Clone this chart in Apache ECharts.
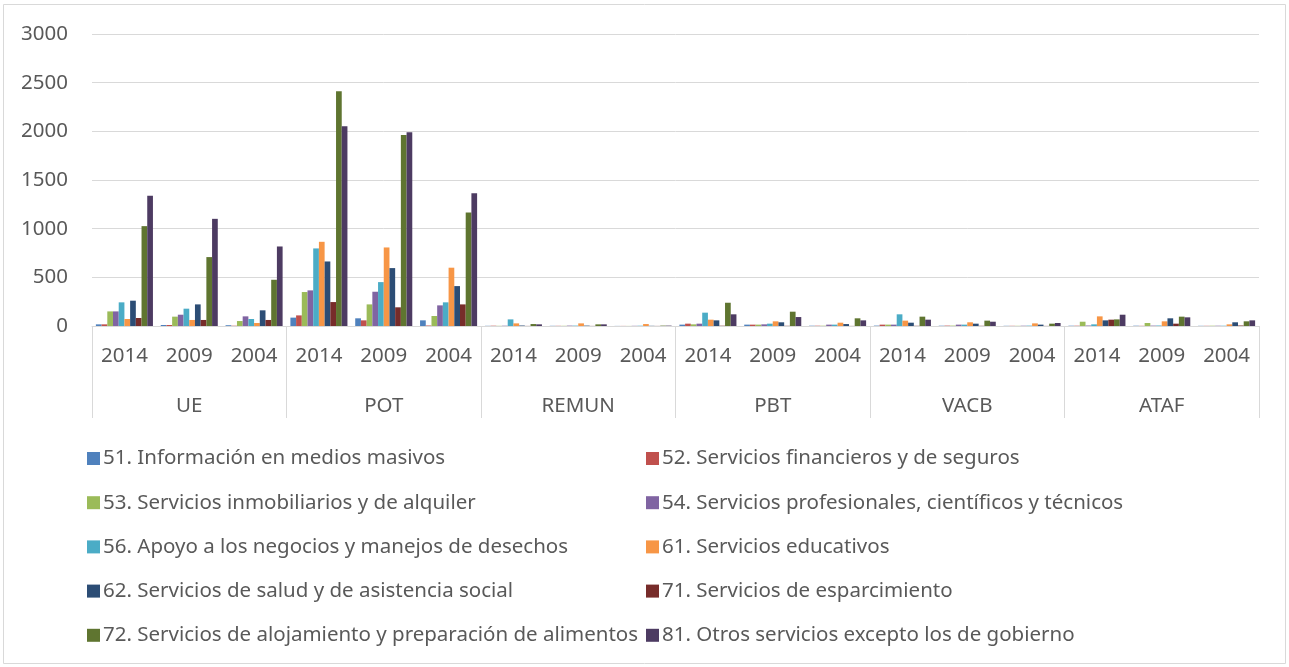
<!DOCTYPE html>
<html>
<head>
<meta charset="utf-8">
<script src="https://cdn.jsdelivr.net/npm/echarts@6/dist/echarts.min.js"></script>
<style>
  html, body { margin: 0; padding: 0; background: #fff; }
  #chart { width: 1289px; height: 667px; }
</style>
</head>
<body>
<div id="chart"></div>
<script>
  // categorias: 6 variables x 3 años
  var groups = ['UE', 'POT', 'REMUN', 'PBT', 'VACB', 'ATAF'];
  var years = ['2014', '2009', '2004'];
  var yTicks = [0, 500, 1000, 1500, 2000, 2500, 3000];

  var names = [
    '51. Información en medios masivos',
    '52. Servicios financieros y de seguros',
    '53. Servicios inmobiliarios y de alquiler',
    '54. Servicios profesionales, científicos y técnicos',
    '56. Apoyo a los negocios y manejos de desechos',
    '61. Servicios educativos',
    '62. Servicios de salud y de asistencia social',
    '71. Servicios de esparcimiento',
    '72. Servicios de alojamiento y preparación de alimentos',
    '81. Otros servicios excepto los de gobierno'
  ];
  var colors = ['#4F81BD', '#C0504D', '#9BBB59', '#8064A2', '#4BACC6',
                '#F79646', '#2C4D75', '#772C2A', '#5F7530', '#4D3B62'];

  // orden: UE(14,09,04), POT, REMUN, PBT, VACB, ATAF
  var s51 = [17, 10, 8,    86, 79, 58,      2, 2, 1,    14, 14, 3,    4, 3, 2,     3, 3, 2];
  var s52 = [17, 10, 3,    109, 58, 5,      3, 2, 1,    24, 14, 3,    14, 4, 2,    3, 2, 2];
  var s53 = [150, 96, 51,  349, 222, 103,   2, 2, 1,    17, 14, 3,    14, 4, 2,    44, 31, 3];
  var s54 = [150, 116, 99, 366, 352, 212,   3, 4, 2,    24, 17, 14,   14, 14, 3,   5, 4, 3];
  var s56 = [243, 178, 72, 797, 451, 243,   68, 4, 3,   137, 24, 14,  120, 14, 4,  17, 5, 3];
  var s61 = [72, 62, 31,   865, 807, 599,   27, 27, 20, 65, 48, 34,   55, 38, 27,  99, 48, 17];
  var s62 = [260, 222, 161, 663, 595, 410,  5, 4, 2,    58, 38, 20,   34, 24, 14,  58, 79, 38];
  var s71 = [82, 62, 62,   246, 192, 222,   1, 1, 1,    3, 2, 1,      2, 2, 1,     65, 24, 5];
  var s72 = [1026, 708, 475, 2411, 1963, 1166, 20, 17, 4, 239, 147, 79, 96, 55, 24, 68, 96, 48];
  var s81 = [1337, 1101, 817, 2052, 1990, 1365, 17, 17, 4, 120, 92, 58, 65, 44, 31, 116, 89, 58];
  var allData = [s51, s52, s53, s54, s56, s61, s62, s71, s72, s81];

  var cats = [];
  groups.forEach(function () {
    years.forEach(function (y) { cats.push(y); });
  });

  var series = names.map(function (n, i) {
    return {
      name: n,
      type: 'bar',
      xAxisIndex: 0,
      data: allData[i],
      barGap: '0%',
      barCategoryGap: '12%',
      itemStyle: { color: colors[i] }
    };
  });

  var font = 'Noto Sans';
  var txt = '#595959';
  var line = '#d9d9d9';

  var legendBase = {
    orient: 'vertical',
    top: 443,
    itemWidth: 13,
    itemHeight: 13,
    itemGap: 23.2,
    icon: 'rect',
    textStyle: { fontFamily: font, fontSize: 20.5, lineHeight: 20, color: txt, padding: [0, 0, 0, -2] }
  };

  var myChart = echarts.init(document.getElementById('chart'));
  myChart.setOption({
    animation: false,
    color: colors,
    textStyle: { fontFamily: font },
    grid: { left: 92, right: 30, top: 34, bottom: 341 },
    graphic: [{
      type: 'rect',
      shape: { x: 3.5, y: 4.5, width: 1282, height: 659 },
      style: { fill: 'none', stroke: line, lineWidth: 1 },
      silent: true
    }],
    legend: [
      Object.assign({}, legendBase, { left: 82, data: [names[0], names[2], names[4], names[6], names[8]] }),
      Object.assign({}, legendBase, { left: 641, data: [names[1], names[3], names[5], names[7], names[9]] })
    ],
    xAxis: [
      {
        type: 'category',
        data: cats,
        position: 'bottom',
        axisLine: { lineStyle: { color: line, width: 1 } },
        axisTick: { show: false },
        axisLabel: { fontSize: 20.5, color: txt, margin: 20, interval: 0, fontFamily: font }
      },
      {
        type: 'category',
        data: groups,
        position: 'bottom',
        offset: 0,
        axisLine: { show: false },
        axisTick: { show: true, length: 92, lineStyle: { color: line, width: 1 } },
        axisLabel: { fontSize: 20.5, color: txt, margin: 70, interval: 0, fontFamily: font }
      }
    ],
    yAxis: {
      type: 'value',
      min: yTicks[0],
      max: yTicks[yTicks.length - 1],
      interval: 500,
      axisLine: { show: false },
      axisTick: { show: false },
      splitLine: { lineStyle: { color: line, width: 1 } },
      axisLabel: {
        fontSize: 20.5, color: txt, margin: 24, fontFamily: font,
        formatter: function (v) { return String(v); }
      }
    },
    series: series
  });
</script>
</body>
</html>
